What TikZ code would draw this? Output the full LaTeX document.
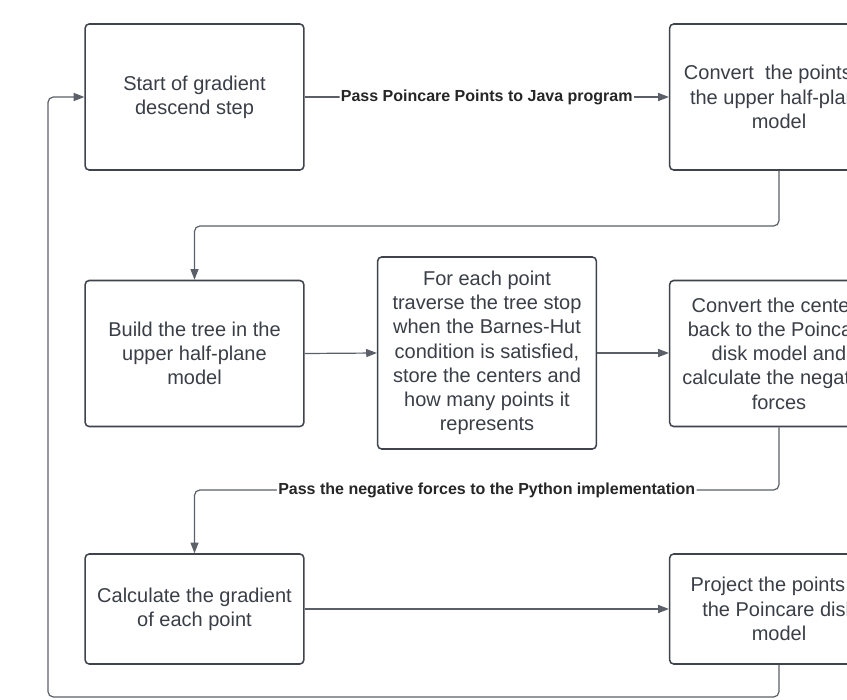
\documentclass[tikz,border=0pt]{standalone}
\usepackage{fontspec}
\setmainfont{Liberation Sans}
\usetikzlibrary{arrows.meta}
\definecolor{boxline}{HTML}{3E434C}
\definecolor{txt}{HTML}{3A3E46}
\definecolor{conline}{HTML}{5B5F67}
\tikzset{
  box/.style={draw=boxline, line width=1.15pt, rounded corners=3pt, fill=white,
    minimum width=164pt, align=center, text=txt,
    font=\fontsize{15}{18.2}\selectfont, inner sep=2pt},
  conn/.style={draw=conline, line width=0.9pt, rounded corners=4pt},
  arr/.style={-{Triangle[length=8pt,width=6pt]}},
  lbl/.style={fill=white, inner sep=1pt, text=black!85, font=\fontsize{12}{14}\selectfont\bfseries}
}
\begin{document}
\begin{tikzpicture}[x=0.75pt,y=-0.75pt]
\useasboundingbox (0,0) rectangle (847,700);
\clip (0,0) rectangle (847,700);
\node[box, minimum height=109.5pt] (b1) at (194.5,97) {Start of gradient\\descend step};
\node[box, minimum height=109.5pt] (b2) at (779,97) {Convert\ \ the points to\\the upper half-plane\\model};
\node[box, minimum height=109.5pt] (b3) at (194.5,353.5) {Build the tree in the\\upper half-plane\\model};
\node[box, minimum height=144pt] (b4) at (487,353) {For each point\\traverse the tree stop\\when the Barnes-Hut\\condition is satisfied,\\store the centers and\\how many points it\\represents};
\node[box, minimum height=109.5pt] (b5) at (779,353.5) {Convert the centers\\back to the Poincare\\disk model and\\calculate the negative\\forces};
\node[box, minimum height=82.5pt] (b6) at (194.5,609) {Calculate the gradient\\of each point};
\node[box, minimum height=82.5pt] (b7) at (779,609) {Project the points to\\the Poincare disk\\model};
\coordinate (lb) at (48,697);
\coordinate (lt) at (48,97);
\draw[conn,arr] (b1.east) -- node[lbl]{Pass Poincare Points to Java program} (b2.west);
\draw[conn,arr] (b2.south) -- (b2.south |- 0,226) -- (b3.north |- 0,226) -- (b3.north);
\draw[conn,arr] (b3.east) -- (b4.west);
\draw[conn,arr] (b4.east) -- (b5.west |- b4.east);
\draw[conn,arr] (b5.south) -- (b5.south |- 0,490) -- node[lbl]{Pass the negative forces to the Python implementation} (b6.north |- 0,490) -- (b6.north);
\draw[conn,arr] (b6.east) -- (b7.west);
\draw[conn,arr] (b7.south) -- (b7.south |- lb) -- (lb) -- (lt) -- (b1.west);
\end{tikzpicture}
\end{document}
